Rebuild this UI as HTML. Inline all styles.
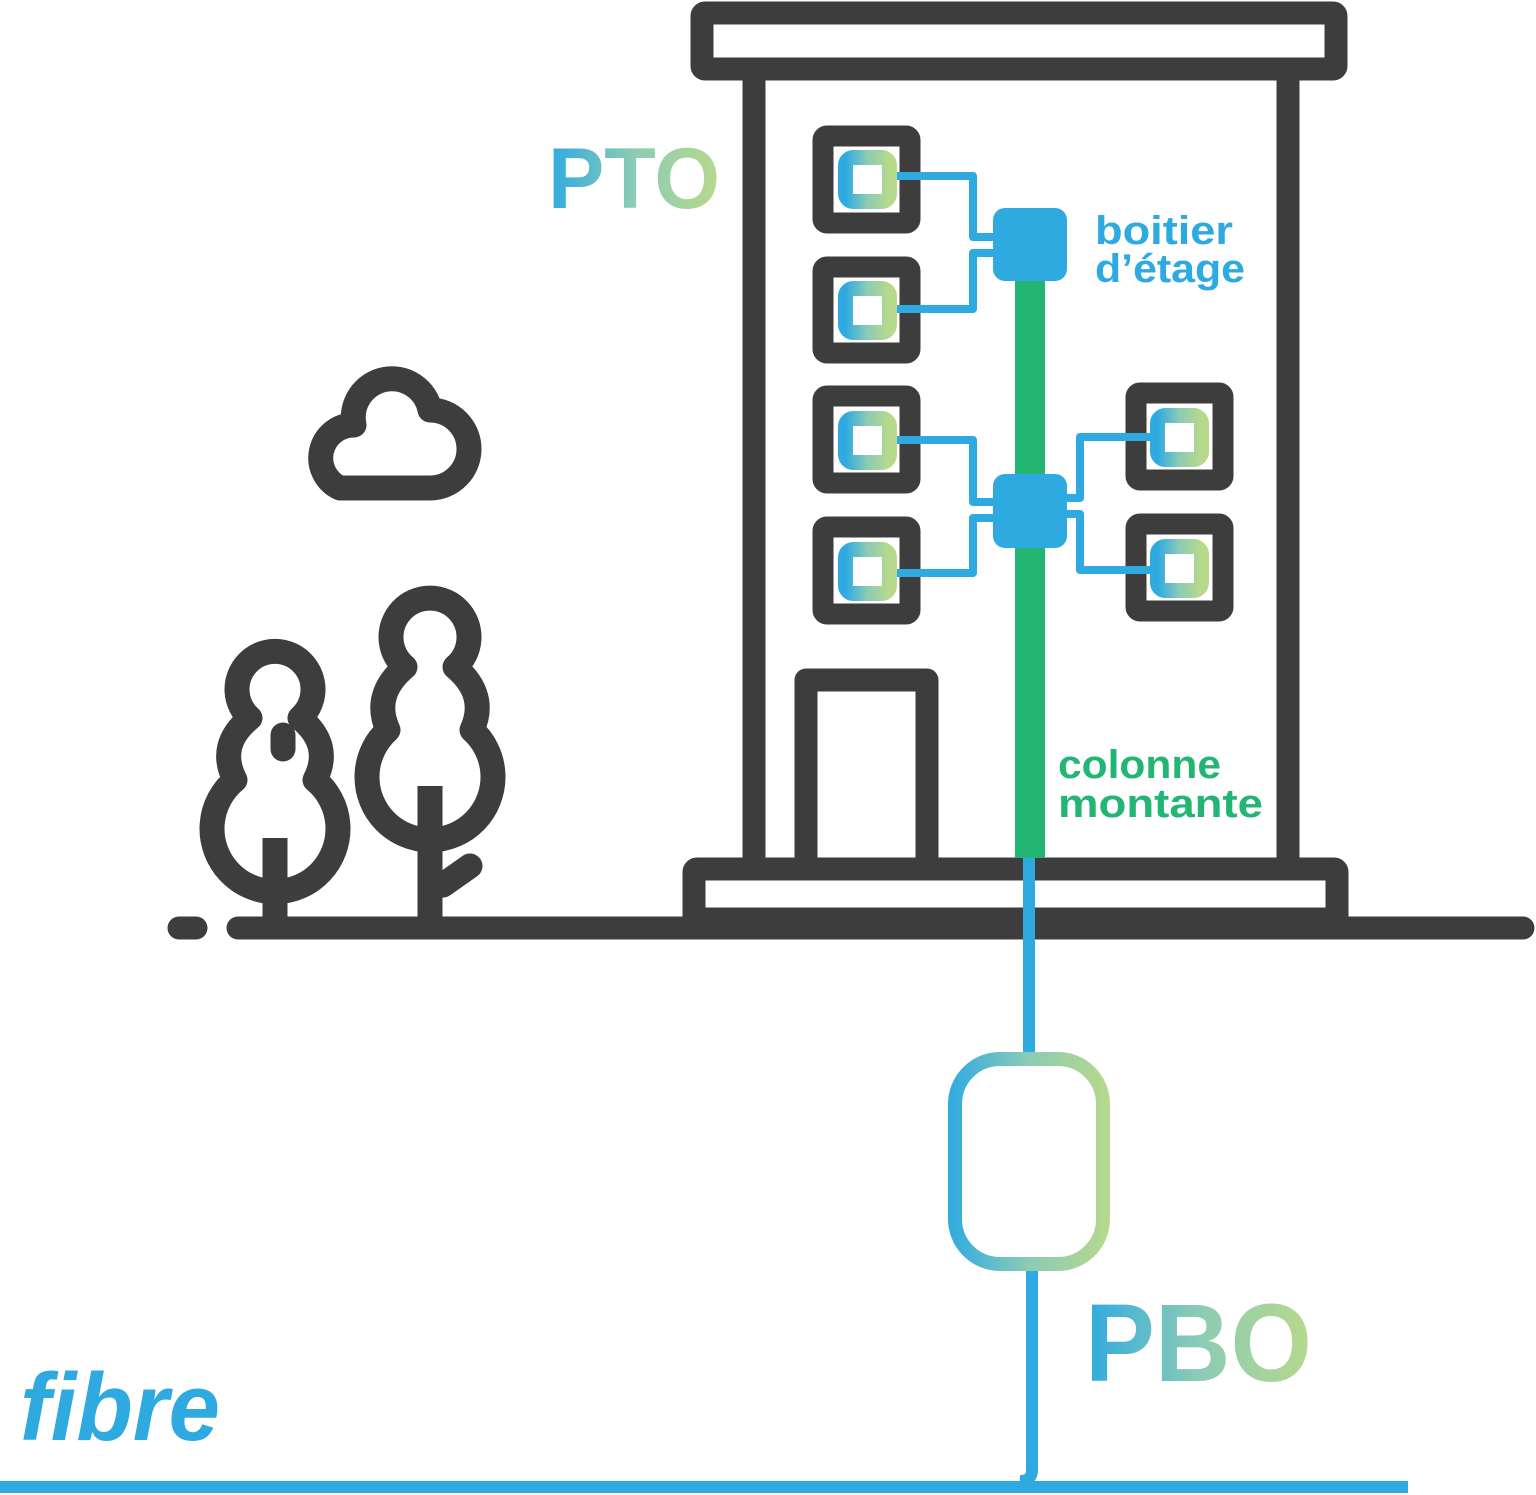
<!DOCTYPE html>
<html><head><meta charset="utf-8"><style>
html,body{margin:0;padding:0;background:#fff;}
svg{display:block}
</style></head><body>
<svg width="1536" height="1495" viewBox="0 0 1536 1495" xmlns="http://www.w3.org/2000/svg">
<defs>
<linearGradient id="g" x1="0" y1="0" x2="1" y2="0">
<stop offset="0" stop-color="#2eaae1"/><stop offset="0.5" stop-color="#8ccbb5"/><stop offset="1" stop-color="#b7d98b"/>
</linearGradient>
<linearGradient id="gu" gradientUnits="userSpaceOnUse" x1="948" y1="0" x2="1110" y2="0">
<stop offset="0" stop-color="#2eaae1"/><stop offset="0.5" stop-color="#8ccbb5"/><stop offset="1" stop-color="#b7d98b"/>
</linearGradient>
</defs>
<g fill="none" stroke="#3d3d3d" stroke-width="23" stroke-linejoin="round" stroke-linecap="round">
<rect x="702" y="13" width="634" height="56" rx="3"/>
<line x1="754" y1="80" x2="754" y2="858" stroke-linecap="butt"/>
<line x1="1288" y1="80" x2="1288" y2="858" stroke-linecap="butt"/>
<rect x="694" y="869" width="643" height="50" rx="3"/>
<path d="M806,858 V680 H927 V858" stroke-linejoin="round"/>
<line x1="238" y1="928" x2="1523" y2="928"/>
<line x1="179" y1="928" x2="196" y2="928"/>
<rect x="823" y="136" width="87" height="87" rx="4" stroke-width="21"/>
<rect x="823" y="267" width="87" height="86" rx="4" stroke-width="21"/>
<rect x="823" y="396" width="87" height="87" rx="4" stroke-width="21"/>
<rect x="823" y="527" width="87" height="87" rx="4" stroke-width="21"/>
<rect x="1136" y="393" width="87" height="87" rx="4" stroke-width="21"/>
<rect x="1136" y="524" width="87" height="87" rx="4" stroke-width="21"/>
<path d="M340,488 H430 A38,38 0 0 0 430,410 A38,38 0 0 0 354,425 A33,33 0 0 0 340,488 Z" stroke-width="25"/>
<path d="M250,718 A38,38 0 1 1 300,718 Q333,745 315,780 A63,63 0 1 1 235,780 Q217,745 250,718 Z" stroke-width="25"/>
<line x1="275" y1="838" x2="275" y2="918" stroke-width="25" stroke-linecap="butt"/>
<line x1="283" y1="735" x2="283" y2="749" stroke-width="25"/>
<path d="M405,667 A39,39 0 1 1 455,667 Q488,695 472,730 A63,63 0 1 1 388,730 Q372,695 405,667 Z" stroke-width="25"/>
<line x1="430" y1="786" x2="430" y2="918" stroke-width="25" stroke-linecap="butt"/>
<line x1="443" y1="885" x2="470" y2="866" stroke-width="25"/>
</g>
<rect x="1015" y="275" width="30" height="583" fill="#22b573"/>
<g fill="none" stroke="#2eaae1" stroke-width="8" stroke-linejoin="round">
<path d="M895,176 H973 V237 H996"/>
<path d="M895,309 H973 V253 H996"/>
<path d="M895,440 H973 V502 H996"/>
<path d="M895,573 H973 V518 H996"/>
<path d="M1064,498 H1080 V437 H1152"/>
<path d="M1064,514 H1080 V570 H1152"/>
<path d="M1029,858 V1054" stroke-width="12"/>
<path d="M1032,1268 V1470 Q1032,1481 1020,1481" stroke-width="12"/>
<line x1="0" y1="1487" x2="1408" y2="1487" stroke-width="12"/>
</g>
<rect x="993" y="208" width="74" height="73" rx="12" fill="#2eaae1"/>
<rect x="993" y="474" width="74" height="74" rx="12" fill="#2eaae1"/>
<g fill="none" stroke="url(#g)" stroke-width="15">
<rect x="845.5" y="157.5" width="44" height="44" rx="8"/>
<rect x="845.5" y="288.5" width="44" height="44" rx="8"/>
<rect x="845.5" y="418.5" width="44" height="44" rx="8"/>
<rect x="845.5" y="549.5" width="44" height="44" rx="8"/>
<rect x="1157.5" y="415.5" width="44" height="44" rx="8"/>
<rect x="1157.5" y="546.5" width="44" height="44" rx="8"/>
</g>
<rect x="955" y="1059" width="148" height="205" rx="45" fill="none" stroke="url(#gu)" stroke-width="14"/>
<g font-family="'Liberation Sans', 'DejaVu Sans', sans-serif" font-weight="bold">
<text x="548" y="208" font-size="86" fill="url(#g)" textLength="172" lengthAdjust="spacingAndGlyphs">PTO</text>
<text x="1095" y="244" font-size="40" fill="#2eaae1" textLength="138" lengthAdjust="spacingAndGlyphs">boitier</text>
<text x="1095" y="282" font-size="40" fill="#2eaae1" textLength="150" lengthAdjust="spacingAndGlyphs">d’étage</text>
<text x="1058" y="778" font-size="40" fill="#22b573" textLength="163" lengthAdjust="spacingAndGlyphs">colonne</text>
<text x="1058" y="817" font-size="40" fill="#22b573" textLength="205" lengthAdjust="spacingAndGlyphs">montante</text>
<text x="1085" y="1381" font-size="110" fill="url(#g)" textLength="227" lengthAdjust="spacingAndGlyphs">PBO</text>
<text x="20" y="1440" font-size="96" font-style="italic" fill="#2eaae1" textLength="200" lengthAdjust="spacingAndGlyphs">fibre</text>
</g>
</svg>
</body></html>
